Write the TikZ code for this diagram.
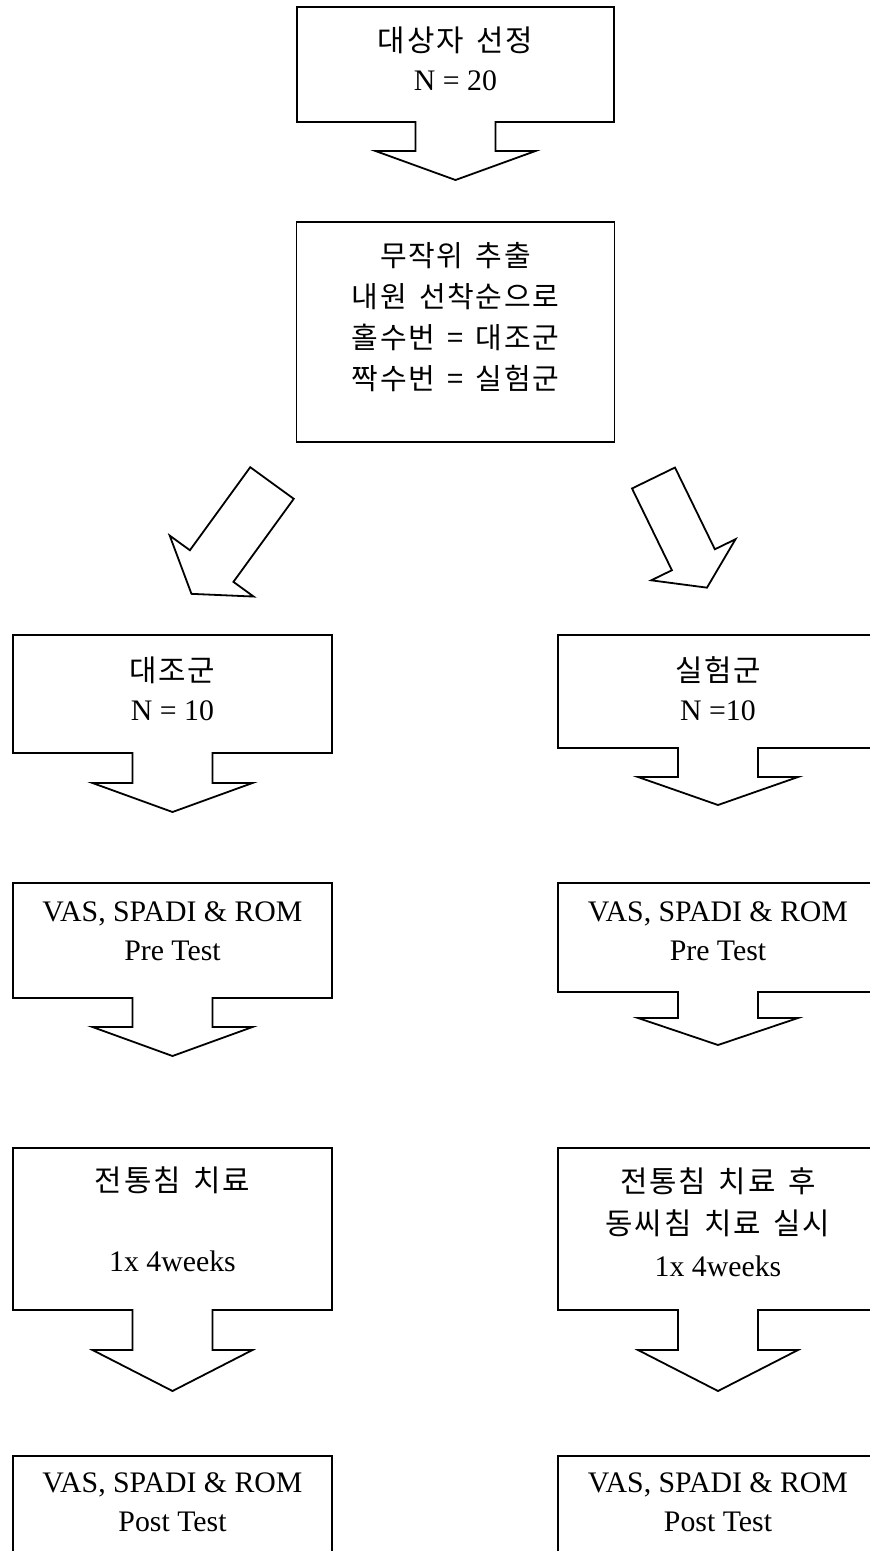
\documentclass[tikz,border=0pt]{standalone}
\usepackage{fontspec}
\setmainfont{Liberation Serif}
\newfontfamily\kr[LetterSpace=6,WordSpace=1.5]{Noto Sans CJK KR}
\usetikzlibrary{shapes.arrows,positioning,calc}

\newcommand{\calloutdown}[3]{%
  \draw (#1.south west) -- (#1.north west) -- (#1.north east) -- (#1.south east)
    -- ([xshift=40pt]#1.south) -- ++(0,#2) -- ++(40,0) -- ++(-80,#3)
    -- ++(-80,-#3) -- ++(40,0) -- ++(0,-#2) -- cycle;}

\begin{document}
\begin{tikzpicture}[x=1pt, y=-1pt, line width=1.8pt,
  box/.style={rectangle, minimum width=319pt, inner sep=0pt, outer sep=0pt},
  txt/.style={align=center, inner sep=0pt, font={\fontsize{29.8}{39}\selectfont}},
  bigarrow/.style={single arrow, draw, single arrow tip angle=113, inner xsep=0pt, outer sep=0pt}]

\useasboundingbox (0,0) rectangle (870,1551);
\clip (0,0) rectangle (870,1551);

\node[box, minimum width=317pt, minimum height=115pt] (sel) at (455.5,64.5) {};
\node[box, draw, minimum width=318pt, minimum height=220pt] (rand) [below=100pt of sel] {};

\node[box, minimum height=118pt]                      (ctrl)  at (172.5,694)   {};
\node[box, minimum width=320pt, minimum height=113pt] (expt)  at (718,691.5)   {};
\node[box, minimum height=115pt]                      (preL)  [below=130pt of ctrl] {};
\node[box, minimum width=320pt, minimum height=109pt] (preR)  [below=135pt of expt] {};
\node[box, minimum height=162pt]                      (trtL)  [below=150pt of preL] {};
\node[box, minimum width=320pt, minimum height=162pt] (trtR)  [below=156pt of preR] {};
\node[box, draw, minimum height=115pt]                      (postL) [below=146pt of trtL] {};
\node[box, draw, minimum width=320pt, minimum height=115pt] (postR) [below=146pt of trtR] {};

\node[txt] (selT)   at ([yshift=6pt]sel.center)  {{\kr 대상자 선정}\\N = 20};
\node[txt, font={\kr\fontsize{29}{41}\selectfont}] (randT) at ([yshift=15pt]rand.center)
  {무작위 추출\\내원 선착순으로\\홀수번 = 대조군\\짝수번 = 실험군};
\node[txt] (ctrlT)  at ([yshift=5pt]ctrl.center)   {{\kr 대조군}\\N = 10};
\node[txt] (exptT)  at ([yshift=2.5pt]expt.center) {{\kr 실험군}\\N =10};
\node[txt] (preLT)  at ([yshift=9pt]preL.center)   {VAS, SPADI \& ROM\\Pre Test};
\node[txt] (preRT)  at ([yshift=6pt]preR.center)   {VAS, SPADI \& ROM\\Pre Test};
\node[txt] (trtLT)  at ([yshift=10pt]trtL.center)  {{\kr 전통침 치료}\\[41pt]1x 4weeks};
\node[txt, font={\fontsize{29.8}{42}\selectfont}] (trtRT) at ([yshift=7pt]trtR.center)
  {{\kr 전통침 치료 후}\\{\kr 동씨침 치료 실시}\\1x 4weeks};
\node[txt] (postLT) at ([yshift=11pt]postL.center) {VAS, SPADI \& ROM\\Post Test};
\node[txt] (postRT) at ([yshift=11pt]postR.center) {VAS, SPADI \& ROM\\Post Test};

\calloutdown{sel}{29}{29}
\calloutdown{ctrl}{30}{29}
\calloutdown{expt}{29}{28}
\calloutdown{preL}{29}{29}
\calloutdown{preR}{26}{27}
\calloutdown{trtL}{40}{41}
\calloutdown{trtR}{40}{41}

\node[bigarrow, minimum height=137pt, minimum width=102pt, single arrow head extend=25pt,
  inner ysep=26pt, rotate=234, anchor=tail] (toCtrl) at (272,483) {};
\node[bigarrow, minimum height=122pt, minimum width=91pt, single arrow head extend=23pt,
  inner ysep=23pt, rotate=296, anchor=tail] (toExpt) at (653.5,478) {};

\end{tikzpicture}
\end{document}
